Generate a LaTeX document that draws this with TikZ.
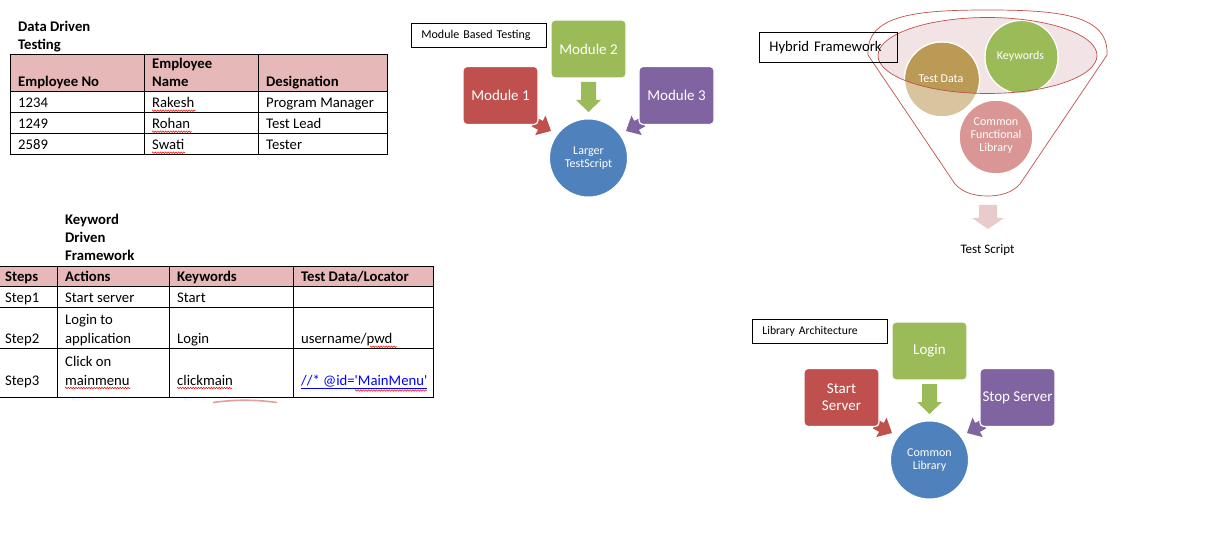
\documentclass[tikz,border=0pt]{standalone}
\usepackage{fontspec}
\setmainfont{Carlito}
\usetikzlibrary{decorations.pathmorphing}
\definecolor{hdr}{HTML}{E6B8B7}
\definecolor{ored}{HTML}{C0504D}
\definecolor{ogreen}{HTML}{9BBB59}
\definecolor{opurple}{HTML}{8064A2}
\definecolor{oblue}{HTML}{4F81BD}
\definecolor{tdark}{HTML}{BA9A55}
\definecolor{tlight}{HTML}{D8C59D}
\definecolor{klight}{HTML}{BDD197}
\definecolor{cfl}{HTML}{D99694}
\definecolor{ellfill}{HTML}{F2E4E4}
\definecolor{parrow}{HTML}{EACBCB}
\definecolor{arcred}{HTML}{E49E9C}
\begin{document}
\begin{tikzpicture}[x=1pt,y=-1pt,
  cell/.style={anchor=base west, inner sep=0pt, font=\fontsize{14.7}{18}\selectfont},
  hcell/.style={anchor=base west, inner sep=0pt, font=\fontsize{14.7}{18}\selectfont\bfseries},
  grid/.style={line width=0.9pt},
  spell/.style={red, line width=0.5pt, decorate, decoration={zigzag, segment length=2.6pt, amplitude=0.8pt}},
  modbox/.style={rounded corners=4pt, minimum width=75pt, minimum height=58pt, text=white,
    draw=white, line width=1.2pt,
    font=\fontsize{15}{17}\selectfont, align=center, inner sep=1pt},
  hub/.style={circle, minimum size=78pt, fill=oblue, draw=white, line width=1pt, text=white,
    font=\fontsize{12}{13}\selectfont, align=center, inner sep=0pt},
  lbox/.style={draw, line width=0.8pt, anchor=north west, inner xsep=10pt, inner ysep=0pt, align=left},
  ball/.style={circle, draw=white, line width=1.5pt, inner sep=0pt},
  balltext/.style={text=white, font=\fontsize{12}{13}\selectfont, align=center, inner sep=0pt},
  blockarrow/.pic={\fill (0,0) -- (-12,11) -- (-12,5) -- (-19,5) -- (-19,-5) -- (-12,-5) -- (-12,-11) -- cycle;},
  downarrow/.pic={\fill (0,0) -- (-12.5,-12) -- (-7.5,-12) -- (-7.5,-30) -- (7.5,-30) -- (7.5,-12) -- (12.5,-12) -- cycle;}
]
\useasboundingbox (0,0) rectangle (1205,537);
\fill[white] (0,0) rectangle (1205,537);

%% ---------------- Data Driven Testing table
\node[hcell] (ddt1) at (18,31.5) {Data Driven};
\node[hcell] (ddt2) at (18,49.5) {Testing};
\fill[hdr] (10,54) rectangle (387,91);
\draw[grid] (10,54) rectangle (387,154);
\draw[grid] (10,91) -- (387,91) (10,112) -- (387,112) (10,133) -- (387,133);
\draw[grid] (144,54) -- (144,154) (258,54) -- (258,154);
\node[hcell] (h1) at (18,87) {Employee No};
\node[hcell] (h2a) at (152,69) {Employee};
\node[hcell] (h2b) at (152,87) {Name};
\node[hcell] (h3) at (266,87) {Designation};
\node[cell] (r11) at (18,107.7) {1234};
\node[cell] (r12) at (152,107.7) {Rakesh};
\node[cell] (r13) at (266,107.7) {Program Manager};
\node[cell] (r21) at (18,128.7) {1249};
\node[cell] (r22) at (152,128.7) {Rohan};
\node[cell] (r23) at (266,128.7) {Test Lead};
\node[cell] (r31) at (18,149.7) {2589};
\node[cell] (r32) at (152,149.7) {Swati};
\node[cell] (r33) at (266,149.7) {Tester};
\draw[spell] (152,110.7) -- (195.7,110.7);
\draw[spell] (152,131.7) -- (191.7,131.7);
\draw[spell] (152,152.7) -- (185,152.7);

%% ---------------- Keyword Driven Framework table
\node[hcell] (kdf1) at (65,225) {Keyword};
\node[hcell] (kdf2) at (65,242.7) {Driven};
\node[hcell] (kdf3) at (65,260.5) {Framework};
\fill[hdr] (-1,266) rectangle (433,286);
\draw[grid] (-1,266) rectangle (433,397);
\draw[grid] (-1,286) -- (433,286) (-1,307) -- (433,307) (-1,348) -- (433,348);
\draw[grid] (57,266) -- (57,397) (169,266) -- (169,397) (293,266) -- (293,397);
\node[hcell] (k1) at (5,281.7) {Steps};
\node[hcell] (k2) at (65,281.7) {Actions};
\node[hcell] (k3) at (177,281.7) {Keywords};
\node[hcell] (k4) at (301,281.7) {Test Data/Locator};
\node[cell] (s1a) at (5,303) {Step1};
\node[cell] (s1b) at (65,303) {Start server};
\node[cell] (s1c) at (177,303) {Start};
\node[cell] (s2a) at (5,344) {Step2};
\node[cell] (s2b1) at (65,325) {Login to};
\node[cell] (s2b2) at (65,344) {application};
\node[cell] (s2c) at (177,344) {Login};
\node[cell] (s2d) at (301,344) {username/pwd};
\node[cell] (s3a) at (5,385) {Step3};
\node[cell] (s3b1) at (65,366.7) {Click on};
\node[cell] (s3b2) at (65,385) {mainmenu};
\node[cell] (s3c) at (177,385) {clickmain};
\node[cell, text=blue] (s3d) at (301,385) {\underline{//* @id=\textquotesingle MainMenu\textquotesingle}};
\draw[spell] (370,346.7) -- (396.7,346.7);
\draw[spell] (65,388) -- (130.7,388);
\draw[spell] (177,388) -- (232,388);
\draw[spell] (355,390.5) -- (426.7,390.5);
\draw[arcred, line width=1.6pt] (213,402.5) .. controls (235,399.5) and (255,399.5) .. (277,402.5);

%% ---------------- Module Based Testing
\node[lbox, minimum width=135pt, minimum height=24pt, text width=115pt,
  font=\fontsize{12}{14}\selectfont] (mbt) at (411,23) {Module Based Testing};
\pic[ogreen] at (588.5,112) {downarrow};
\pic[ored, rotate=-28] at (551,131) {blockarrow};
\pic[opurple, rotate=-152] at (626,131) {blockarrow};
\node[modbox, fill=ored] (m1) at (500.5,95.5) {Module 1};
\node[modbox, fill=ogreen] (m2) at (588.5,49) {Module 2};
\node[modbox, fill=opurple] (m3) at (676.5,95.5) {Module 3};
\node[hub] (lts) at (588.5,158) {Larger\\TestScript};

%% ---------------- Library Architecture
\node[lbox, minimum width=135pt, minimum height=24pt, text width=115pt,
  font=\fontsize{11.7}{14}\selectfont] (la) at (752,319) {Library Architecture};
\pic[ogreen] at (929.5,414) {downarrow};
\pic[ored, rotate=-28] at (892,433) {blockarrow};
\pic[opurple, rotate=-152] at (967,433) {blockarrow};
\node[modbox, fill=ored] (ss) at (841.5,397.5) {Start\\Server};
\node[modbox, fill=ogreen] (lg) at (929.5,351) {Login};
\node[modbox, fill=opurple] (st) at (1017.5,397.5) {Stop Server};
\node[hub] (cl) at (929.5,460) {Common\\Library};

%% ---------------- Hybrid Framework
\fill[ellfill] (987.5,55.5) ellipse [x radius=109.5, y radius=38];
\draw[ored, line width=0.7pt] (868,55) .. controls (866,15) and (915,10) .. (987.5,10)
  .. controls (1060,10) and (1109,15) .. (1107,55)
  -- (1020,184) .. controls (1012,193) and (1000,196) .. (987.5,196)
  .. controls (975,196) and (963,193) .. (955,184) -- cycle;
\node[ball, minimum size=75pt, fill=tlight] (td) at (942,79.5) {};
\node[ball, minimum size=73pt, fill=klight] (kw) at (1021.5,57) {};
\begin{scope}
  \clip (987.5,55.5) ellipse [x radius=109.5, y radius=38];
  \fill[tdark] (td.center) circle [radius=36.8];
  \fill[ogreen] (kw.center) circle [radius=35.8];
\end{scope}
\draw[ored, line width=0.7pt] (987.5,55.5) ellipse [x radius=109.5, y radius=38];
\node[ball, minimum size=74pt, fill=cfl] (cf) at (996,137) {};
\node[balltext] (tdl) at (941,78.5) {Test Data};
\node[balltext] (kwl) at (1020.5,56) {Keywords};
\node[balltext] (cfl) at (996,136) {Common\\Functional\\Library};
\node[lbox, minimum width=138pt, minimum height=30pt, text width=118pt,
  font=\fontsize{14.7}{16}\selectfont] (hf) at (759,32) {Hybrid Framework};
\fill[parrow] (988,229) -- (972,218) -- (979,218) -- (979,205) -- (997,205) -- (997,218) -- (1004,218) -- cycle;
\node[font=\fontsize{13}{15}\selectfont, inner sep=0pt] (ts) at (987.5,250) {Test Script};
\end{tikzpicture}
\end{document}
